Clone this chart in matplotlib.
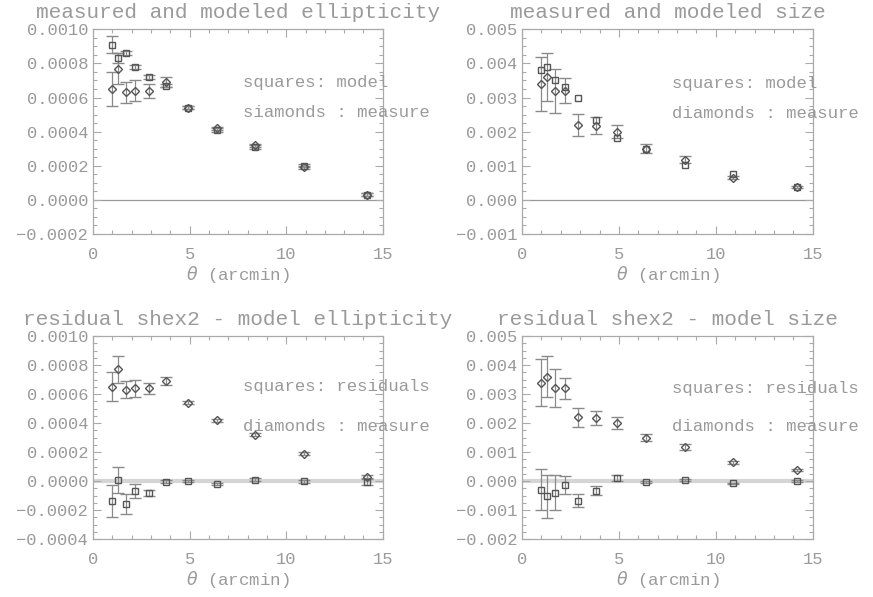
import matplotlib
matplotlib.use('Agg')
import matplotlib.pyplot as plt
from matplotlib.ticker import MultipleLocator, AutoMinorLocator, FuncFormatter

# angular bins (arcmin)
theta = [1.0, 1.3, 1.7, 2.2, 2.9, 3.8, 4.9, 6.4, 8.4, 10.9, 14.2]

# ellipticity
ell_meas = [0.00065, 0.00077, 0.00063, 0.00064, 0.00064, 0.00069, 0.00054, 0.00042, 0.00032, 0.00019, 0.00003]
ell_meas_err = [0.0001, 0.00009, 0.00006, 0.00006, 0.00004, 0.00003, 0.00001, 0.00001, 0.00001, 0.00001, 0.00001]
ell_model = [0.00091, 0.00083, 0.00086, 0.00078, 0.00072, 0.00067, 0.00054, 0.00041, 0.00031, 0.00020, 0.00003]
ell_model_err = [0.00005, 0.00003, 0.00001, 0.00001, 0.00001, 0.00001, 0.00001, 0.00001, 0.00001, 0.00001, 0.00001]
ell_resid = [-0.00014, 0.00001, -0.00016, -0.00007, -0.00008, -0.000005, 0.000001, -0.00002, 0.000008, 0.0, -0.000004]
ell_resid_err = [0.00011, 0.00009, 0.00007, 0.00005, 0.00002, 0.00001, 0.00001, 0.00001, 0.00001, 0.00001, 0.00002]

# size
size_meas = [0.0034, 0.0036, 0.0032, 0.0032, 0.0022, 0.00217, 0.0020, 0.0015, 0.00118, 0.00065, 0.00038]
size_meas_err = [0.0008, 0.0007, 0.00065, 0.00036, 0.00032, 0.00025, 0.0002, 0.00013, 0.0001, 0.00005, 0.00003]
size_model = [0.0038, 0.0039, 0.0035, 0.0033, 0.0030, 0.00235, 0.0018, 0.00148, 0.00102, 0.00075, 0.00037]
size_resid = [-0.0003, -0.00053, -0.0004, -0.00013, -0.00067, -0.00033, 0.0001, -0.00004, 0.00004, -0.00008, 0.0]
size_resid_err = [0.0007, 0.00075, 0.0006, 0.0003, 0.00022, 0.00015, 0.0001, 0.00003, 0.00003, 0.00003, 0.00003]

txt = '#9a9a9a'
mk = '#555555'
plt.rcParams['font.family'] = ['Liberation Mono', 'DejaVu Sans']

fig = plt.figure(figsize=(8.73, 5.97), dpi=100)

# left, bottom, width, height
pos = [[0.1065, 0.608, 0.332, 0.343],
       [0.598, 0.608, 0.333, 0.343],
       [0.1065, 0.097, 0.332, 0.340],
       [0.598, 0.097, 0.333, 0.340]]

titles = ['measured and modeled ellipticity', 'measured and modeled size',
          'residual shex2 - model ellipticity', 'residual shex2 - model size']
labels1 = ['squares: model', 'squares: model', 'squares: residuals', 'squares: residuals']
labels2 = ['siamonds : measure', 'diamonds : measure', 'diamonds : measure', 'diamonds : measure']
ylims = [(-0.0002, 0.001), (-0.001, 0.005), (-0.0004, 0.001), (-0.002, 0.005)]
ysteps = [0.0002, 0.001, 0.0002, 0.001]
ndig = [4, 3, 4, 3]
texty = [(0.00069, 0.00051), (0.0034, 0.00253), (0.00065, 0.00038), (0.0032, 0.0019)]


def make_fmt(n):
    def f(v, p):
        s = '%.*f' % (n, v)
        if s.startswith('-'):
            s = '\u2212' + s[1:]
        return s
    return FuncFormatter(f)


for i in range(4):
    ax = fig.add_axes(pos[i])
    if i == 0:
        sq, sq_err, dm, dm_err = ell_model, ell_model_err, ell_meas, ell_meas_err
    elif i == 1:
        sq, sq_err, dm, dm_err = size_model, None, size_meas, size_meas_err
    elif i == 2:
        sq, sq_err, dm, dm_err = ell_resid, ell_resid_err, ell_meas, ell_meas_err
    else:
        sq, sq_err, dm, dm_err = size_resid, size_resid_err, size_meas, size_meas_err

    if i < 2:
        ax.axhline(0, color='#999999', lw=0.9, zorder=1)
    else:
        ax.axhline(0, color='#d5d5d5', lw=3, zorder=1)

    ax.errorbar(theta, dm, yerr=dm_err, fmt='D', ms=4.5, mfc='none', mec=mk, mew=1.0,
                ecolor='#8a8a8a', elinewidth=0.9, capsize=4, capthick=0.9, zorder=3)
    ax.errorbar(theta, sq, yerr=sq_err, fmt='s', ms=4.5, mfc='none', mec=mk, mew=1.0,
                ecolor='#8a8a8a', elinewidth=0.9, capsize=4, capthick=0.9, zorder=3)

    ax.set_xlim(0, 15)
    ax.set_ylim(*ylims[i])
    ax.xaxis.set_major_locator(MultipleLocator(5))
    ax.xaxis.set_minor_locator(AutoMinorLocator(5))
    ax.yaxis.set_major_locator(MultipleLocator(ysteps[i]))
    ax.yaxis.set_minor_locator(AutoMinorLocator(4))
    ax.yaxis.set_major_formatter(make_fmt(ndig[i]))
    ax.tick_params(which='both', direction='in', top=True, right=True, colors='#aaaaaa',
                   labelcolor=txt, labelsize=12.3)
    ax.tick_params(which='major', length=6, width=0.8)
    ax.tick_params(which='minor', length=3, width=0.8)
    ax.tick_params(axis='x', pad=9)
    for s in ax.spines.values():
        s.set_color('#aaaaaa')
        s.set_linewidth(0.9)

    ax.set_title(titles[i], color=txt, fontsize=15.2, pad=8)
    ax.set_xlabel(r'$\theta$ (arcmin)', color=txt, fontsize=12.5, labelpad=2)
    ax.text(7.75, texty[i][0], labels1[i], color=txt, fontsize=12.5, va='center', clip_on=False)
    ax.text(7.75, texty[i][1], labels2[i], color=txt, fontsize=12.5, va='center', clip_on=False)

plt.savefig('out.png', dpi=100)
